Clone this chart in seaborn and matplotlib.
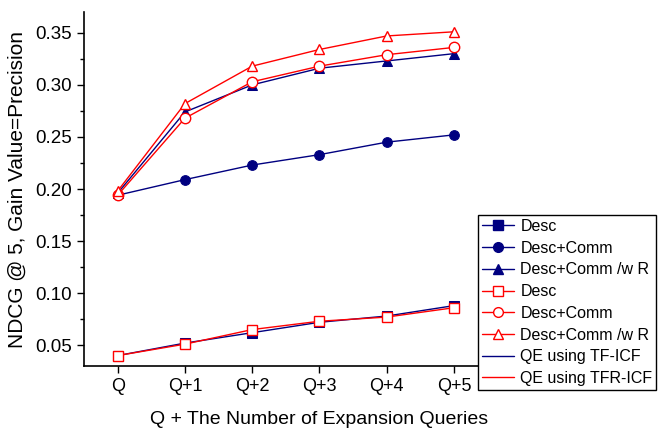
"""
NDCG@5 vs. number of expansion queries, TF-ICF vs TFR-ICF.
"""

import numpy as np
import pandas as pd
import matplotlib
matplotlib.use("Agg")
import matplotlib.pyplot as plt
from matplotlib.lines import Line2D
from matplotlib.ticker import MultipleLocator
import seaborn as sns

steps = ["Q", "Q+1", "Q+2", "Q+3", "Q+4", "Q+5"]
tick_labels = ["Q", "Q+1", "Q+2", "Q+3", "Q+4", "Q+5", ""]

# QE using TF-ICF (blue, filled markers)
tf_desc = [0.040, 0.052, 0.062, 0.072, 0.078, 0.088]
tf_desc_comm = [0.194, 0.209, 0.223, 0.233, 0.245, 0.252]
tf_desc_comm_r = [0.196, 0.274, 0.300, 0.316, 0.323, 0.330]

# QE using TFR-ICF (red, open markers)
tfr_desc = [0.040, 0.051, 0.065, 0.073, 0.077, 0.086]
tfr_desc_comm = [0.194, 0.268, 0.303, 0.318, 0.329, 0.336]
tfr_desc_comm_r = [0.198, 0.282, 0.318, 0.334, 0.347, 0.351]

series_names = ["Desc", "Desc+Comm", "Desc+Comm /w R"]
markers = ["s", "o", "^"]

sns.set_style("ticks")
plt.rcParams["font.family"] = ["Liberation Sans", "DejaVu Sans"]
plt.rcParams["text.color"] = "black"
plt.rcParams["axes.labelcolor"] = "black"
plt.rcParams["xtick.color"] = "black"
plt.rcParams["ytick.color"] = "black"

fig = plt.figure(figsize=(6.58, 4.29), dpi=100)
ax = fig.add_axes([84 / 658, 63 / 429, (555 - 84) / 658, (366 - 12) / 429])

x = np.arange(len(steps))
blue = "#000080"
red = "#ff0000"

handles = []
for name, vals, mk in zip(series_names, [tf_desc, tf_desc_comm, tf_desc_comm_r], markers):
    df = pd.DataFrame({"x": x, "y": vals})
    sns.lineplot(data=df, x="x", y="y", ax=ax, color=blue, lw=1.0,
                 marker=mk, markersize=7, markerfacecolor=blue,
                 markeredgecolor=blue, zorder=3)
    handles.append(Line2D([], [], color=blue, lw=1.0, marker=mk, markersize=7,
                          markerfacecolor=blue, markeredgecolor=blue, label=name))

for name, vals, mk in zip(series_names, [tfr_desc, tfr_desc_comm, tfr_desc_comm_r], markers):
    df = pd.DataFrame({"x": x, "y": vals})
    sns.lineplot(data=df, x="x", y="y", ax=ax, color=red, lw=1.0,
                 marker=mk, markersize=7.5, markerfacecolor="white",
                 markeredgecolor=red, markeredgewidth=1.0, zorder=4)
    handles.append(Line2D([], [], color=red, lw=1.0, marker=mk, markersize=7,
                          markerfacecolor="white", markeredgecolor=red, label=name))

handles.append(Line2D([], [], color=blue, lw=1.0, label="QE using TF-ICF"))
handles.append(Line2D([], [], color=red, lw=1.0, label="QE using TFR-ICF"))

ax.set_xlim(-0.5, 6.5)
ax.set_ylim(0.03, 0.37)
ax.set_xticks(np.arange(len(tick_labels)))
ax.set_xticklabels(tick_labels, fontsize=13)
ax.yaxis.set_minor_locator(MultipleLocator(0.025))
ax.set_yticks(np.arange(0.05, 0.36, 0.05))
ax.set_yticklabels([f"{v:.2f}" for v in np.arange(0.05, 0.36, 0.05)], fontsize=13.5)
ax.tick_params(axis="both", which="major", direction="out", length=5, width=1.0, color="black")
ax.tick_params(axis="y", which="minor", direction="out", length=3, width=1.0, color="black")

ax.set_xlabel("Q + The Number of Expansion Queries", fontsize=14, labelpad=12)
ax.set_ylabel("NDCG @ 5, Gain Value=Precision", fontsize=15, labelpad=6)

sns.despine(ax=ax)
for side in ["left", "bottom"]:
    ax.spines[side].set_color("black")
    ax.spines[side].set_linewidth(1.2)

leg = fig.legend(handles=handles, loc="upper left",
                 bbox_to_anchor=(478 / 658, 1 - 215 / 429),
                 fontsize=11.5, frameon=True, fancybox=False,
                 edgecolor="black", framealpha=1.0, borderpad=0.25,
                 labelspacing=0.42, handlelength=2.0, handletextpad=0.4,
                 borderaxespad=0.0)
leg.get_frame().set_linewidth(1.0)

fig.savefig("out.png", dpi=100)
